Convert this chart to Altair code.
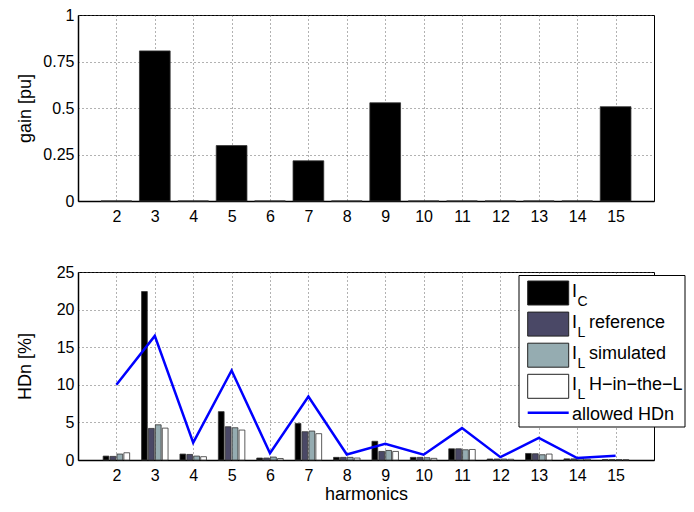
import altair as alt
import pandas as pd

# ---------------- data ----------------
harmonics = list(range(2, 16))
gain_pu = [0.0, 0.807, 0.0, 0.298, 0.0, 0.216, 0.0, 0.528, 0.0, 0.0, 0.0, 0.0, 0.0, 0.507]

hd_ic = [0.52, 22.4, 0.79, 6.43, 0.26, 4.86, 0.35, 2.49, 0.35, 1.49, 0.13, 0.87, 0.15, 0.05]
hd_il_ref = [0.48, 4.20, 0.74, 4.42, 0.26, 3.76, 0.35, 1.14, 0.35, 1.49, 0.13, 0.83, 0.15, 0.05]
hd_il_sim = [0.79, 4.68, 0.52, 4.29, 0.39, 3.85, 0.35, 1.27, 0.30, 1.36, 0.13, 0.70, 0.20, 0.05]
hd_il_hil = [0.96, 4.24, 0.44, 3.98, 0.20, 3.50, 0.26, 1.14, 0.22, 1.40, 0.10, 0.79, 0.10, 0.04]
allowed_hdn = [10.0, 16.5, 2.3, 11.9, 0.9, 8.44, 0.74, 2.14, 0.70, 4.24, 0.38, 2.95, 0.26, 0.56]

series_keys = ["IC", "IL_ref", "IL_sim", "IL_hil"]
series_colors = ["#000000", "#4a4866", "#95acb1", "#ffffff"]
legend_main = ["I", "I", "I", "I"]
legend_sub = ["C", "L", "L", "L"]
legend_rest = ["", "reference", "simulated", "H\u2212in\u2212the\u2212L"]
line_label = "allowed HDn"

y_top_ticks = [0, 0.25, 0.5, 0.75, 1]
y_bot_ticks = [0, 5, 10, 15, 20, 25]

# ---------------- tables ----------------
top_df = pd.DataFrame({"harmonic": harmonics, "gain": gain_pu})
rows = []
for k, (key, vals) in enumerate(zip(series_keys, [hd_ic, hd_il_ref, hd_il_sim, hd_il_hil])):
    for h, v in zip(harmonics, vals):
        rows.append({"harmonic": h, "series": key, "k": k, "value": v})
bot_df = pd.DataFrame(rows)
line_df = pd.DataFrame({"harmonic": harmonics, "allowed": allowed_hdn})
one = pd.DataFrame({"k": [0]})

# ---------------- layout ----------------
FONT = "Liberation Sans"
W = 576
H1 = 186
H2 = 188

x_scale = alt.Scale(domain=[1, 16], nice=False, zero=False)
y_top_scale = alt.Scale(domain=[0, 1], nice=False)
y_bot_scale = alt.Scale(domain=[0, 25], nice=False)


def x_axis(title):
    return alt.Axis(values=harmonics, format="d", title=title, grid=True,
                    labelPadding=7, titlePadding=2)


def y_axis(title, values, h, fmt):
    return alt.Axis(values=values, format=fmt, title=title, grid=True,
                    titleX=-53, titleY=h / 2, titleBaseline="middle",
                    labelPadding=4, labelOverlap=False)


top = alt.Chart(top_df).transform_calculate(
    lo="datum.harmonic - 0.4", hi="datum.harmonic + 0.4"
).mark_bar(color="#000000", stroke="#333333", strokeWidth=0.8).encode(
    x=alt.X("lo:Q", scale=x_scale, axis=x_axis(None)),
    x2="hi:Q",
    y=alt.Y("gain:Q", scale=y_top_scale,
            axis=y_axis("gain [pu]", y_top_ticks, H1, ".2~f")),
    y2=alt.datum(0),
).properties(width=W, height=H1)

bot_x_axis = x_axis("harmonics")
bot_y_axis = y_axis("HDn [%]", y_bot_ticks, H2, "d")

bars = alt.Chart(bot_df).transform_calculate(
    lo="datum.harmonic + (datum.k - 1.5) * 0.18 - 0.075",
    hi="datum.harmonic + (datum.k - 1.5) * 0.18 + 0.075",
).mark_bar(stroke="#333333", strokeWidth=0.8).encode(
    x=alt.X("lo:Q", scale=x_scale, axis=bot_x_axis),
    x2="hi:Q",
    y=alt.Y("value:Q", scale=y_bot_scale, axis=bot_y_axis),
    y2=alt.datum(0),
    fill=alt.Fill("series:N", scale=alt.Scale(domain=series_keys, range=series_colors),
                  legend=None),
)

line = alt.Chart(line_df).mark_line(color="#0000ff", strokeWidth=2.5).encode(
    x=alt.X("harmonic:Q", scale=x_scale, axis=bot_x_axis),
    y=alt.Y("allowed:Q", scale=y_bot_scale, axis=bot_y_axis),
)

# ---------------- hand-built legend (for subscripts) ----------------
LX0, LX1, LY0, LY1 = 441, 607, 3.5, 155
SX0, SX1 = 449.7, 490.7
legend_layers = [
    alt.Chart(one).mark_rect(fill="white", stroke="black", strokeWidth=1).encode(
        x=alt.value(LX0), x2=alt.value(LX1), y=alt.value(LY0), y2=alt.value(LY1))
]
for i in range(4):
    t = 9 + 31.1 * i
    legend_layers.append(
        alt.Chart(one).mark_rect(fill=series_colors[i], stroke="#222222", strokeWidth=1).encode(
            x=alt.value(SX0), x2=alt.value(SX1), y=alt.value(t), y2=alt.value(t + 24)))
    legend_layers.append(
        alt.Chart(one).mark_text(text=legend_main[i], align="left", baseline="alphabetic",
                                 font=FONT, fontSize=18, color="black").encode(
            x=alt.value(494), y=alt.value(t + 15.6)))
    legend_layers.append(
        alt.Chart(one).mark_text(text=legend_sub[i], align="left", baseline="alphabetic",
                                 font=FONT, fontSize=14, color="black").encode(
            x=alt.value(499.5), y=alt.value(t + 24.5)))
    if legend_rest[i]:
        legend_layers.append(
            alt.Chart(one).mark_text(text=legend_rest[i], align="left", baseline="alphabetic",
                                     font=FONT, fontSize=18, color="black").encode(
                x=alt.value(511), y=alt.value(t + 15.6)))
legend_layers.append(
    alt.Chart(one).mark_rule(color="#0000ff", strokeWidth=2.5).encode(
        x=alt.value(SX0), x2=alt.value(SX1), y=alt.value(140.7)))
legend_layers.append(
    alt.Chart(one).mark_text(text=line_label, align="left", baseline="alphabetic",
                             font=FONT, fontSize=18, color="black").encode(
        x=alt.value(494), y=alt.value(148.3)))

bottom = alt.layer(bars, line, *legend_layers).properties(width=W, height=H2)

chart = alt.vconcat(top, bottom, spacing=38).properties(
    padding={"top": -2, "left": 7, "right": 0, "bottom": 0}
).configure_view(
    stroke="#000000", strokeWidth=1
).configure_axis(
    labelFont=FONT, labelFontSize=16, labelColor="black",
    titleFont=FONT, titleFontSize=18, titleFontWeight="normal", titleColor="black",
    domainColor="black", domainWidth=1.5, ticks=False,
    gridColor="#555555", gridDash=[1, 3], gridWidth=1, gridOpacity=0.9,
)

chart.save("out.html", embed_options={"renderer": "svg", "actions": False})
